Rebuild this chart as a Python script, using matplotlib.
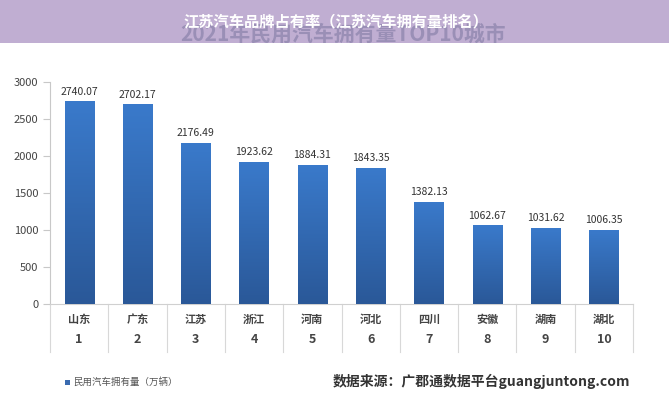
import numpy as np
import matplotlib.pyplot as plt
from matplotlib.colors import LinearSegmentedColormap
from matplotlib.patches import Rectangle
import matplotlib.transforms as mtransforms

plt.rcParams['font.family'] = ['Noto Sans CJK SC', 'DejaVu Sans']

provinces = ['山东', '广东', '江苏', '浙江', '河南', '河北', '四川', '安徽', '湖南', '湖北']
ranks = ['1', '2', '3', '4', '5', '6', '7', '8', '9', '10']
values = [2740.07, 2702.17, 2176.49, 1923.62, 1884.31, 1843.35, 1382.13, 1062.67, 1031.62, 1006.35]
y_ticks = [0, 500, 1000, 1500, 2000, 2500, 3000]

fig = plt.figure(figsize=(6.69, 4.0), dpi=100)
fig.patch.set_facecolor('white')

# bandeau violet en haut
ax_top = fig.add_axes([0, 1 - 43 / 400, 1, 43 / 400])
ax_top.set_facecolor('#c0aed2')
ax_top.set_xlim(0, 669)
ax_top.set_ylim(43, 0)
ax_top.set_xticks([])
ax_top.set_yticks([])
for s in ax_top.spines.values():
    s.set_visible(False)
ax_top.text(343, 34, '2021年民用汽车拥有量TOP10城市', ha='center', va='center',
            fontsize=15, fontweight='bold', color='#9a8fb6', clip_on=True)
ax_top.text(336, 21, '江苏汽车品牌占有率（江苏汽车拥有量排名）', ha='center', va='center',
            fontsize=11, fontweight='bold', color='white')

ax = fig.add_axes([50 / 669, 96 / 400, 583 / 669, 222 / 400])
x = np.arange(len(values))
bars = ax.bar(x, values, width=0.5, color='#3068b4', zorder=2)

# dégradé bleu sur les barres
cmap = LinearSegmentedColormap.from_list('bleu', ['#2a5898', '#3a7acb'])
grad = np.linspace(0, 1, 256).reshape(-1, 1)
for b in bars:
    bx, by = b.get_x(), b.get_y()
    im = ax.imshow(grad, cmap=cmap, origin='lower', aspect='auto', zorder=3,
                   extent=[bx, bx + b.get_width(), by, by + b.get_height()])
    im.set_clip_path(b)

for xi, v in zip(x, values):
    ax.text(xi, v + 60, f'{v:.2f}', ha='center', va='bottom', fontsize=7.5, color='#333333')

ax.set_xlim(-0.5, len(values) - 0.5)
ax.set_ylim(0, 3000)
ax.set_yticks(y_ticks)
ax.tick_params(axis='y', labelsize=8, labelcolor='#444444', color='#c8c8c8', length=5, width=0.8)
ax.set_xticks([])
for s in ['top', 'right']:
    ax.spines[s].set_visible(False)
ax.spines['left'].set_color('#c8c8c8')
ax.spines['bottom'].set_color('#d0d0d0')

trans = mtransforms.blended_transform_factory(ax.transData, ax.transAxes)
for xs in np.arange(-0.5, len(values), 1.0):
    ax.plot([xs, xs], [0, -0.216], transform=trans, color='#d8d8d8', lw=0.8, clip_on=False)
for xi, p, r in zip(x, provinces, ranks):
    ax.text(xi, -0.068, p, transform=trans, ha='center', va='center', fontsize=8,
            fontweight='bold', color='#444444')
    ax.text(xi, -0.162, r, transform=trans, ha='center', va='center', fontsize=9,
            fontweight='bold', color='#444444')

# légende et source
fig.patches.append(Rectangle((65 / 669, 1 - 385 / 400), 5 / 669, 5 / 400, transform=fig.transFigure,
                             facecolor='#3a6bb0', edgecolor='none'))
fig.text(73 / 669, 1 - 382 / 400, '民用汽车拥有量（万辆）', ha='left', va='center', fontsize=6.8,
         color='#555555')
fig.text(630 / 669, 1 - 381 / 400, '数据来源：广郡通数据平台guangjuntong.com', ha='right', va='center',
         fontsize=10, fontweight='bold', color='#333333')

plt.savefig('out.png', dpi=100)
